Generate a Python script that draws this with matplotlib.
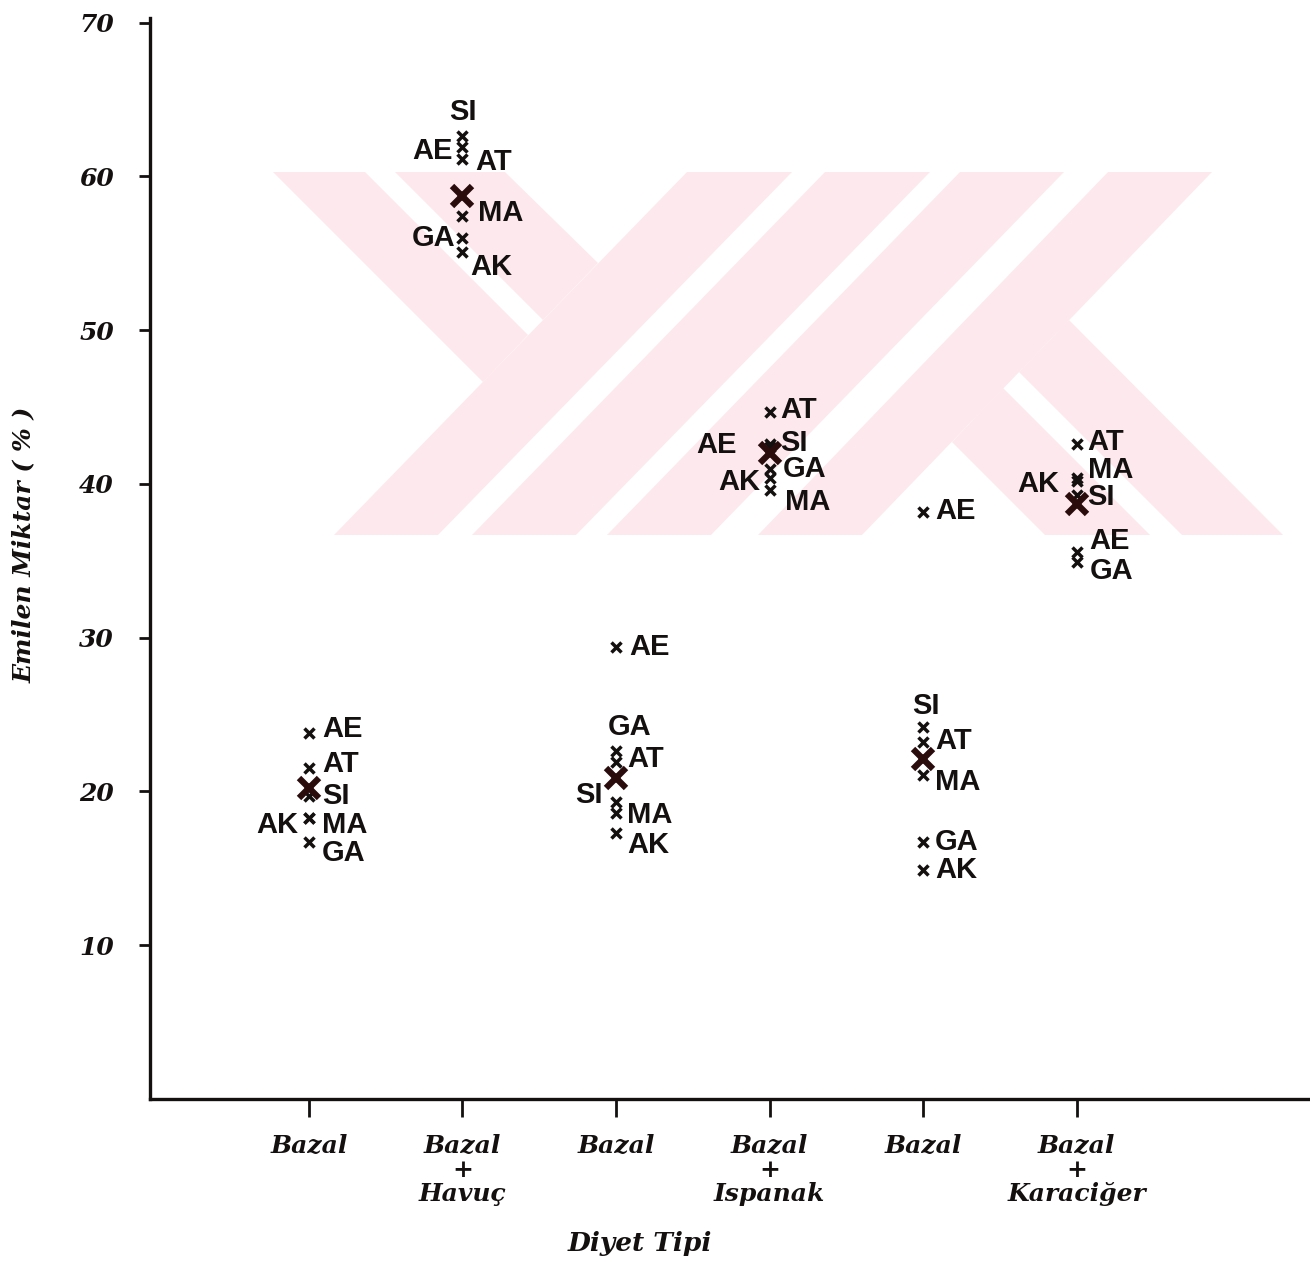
# emilim.py — Diyet tipine göre emilen miktar (%), hayvan bazında
import matplotlib
matplotlib.use("Agg")
import matplotlib.pyplot as plt
from matplotlib import font_manager
from matplotlib.patches import Polygon

# ── Veriler ─────────────────────────────────────────────
HAYVANLAR = ["AE", "AT", "SI", "MA", "GA", "AK"]
DIYETLER  = ["Bazal", "Bazal\n+\nHavuç", "Bazal",
             "Bazal\n+\nIspanak", "Bazal", "Bazal\n+\nKaraciğer"]

bazal_1     = [23.8, 21.5, 19.7, 18.3, 16.7, 18.3]
havuc       = [61.9, 61.1, 62.6, 57.4, 56.0, 55.1]
bazal_2     = [29.4, 21.9, 19.3, 18.6, 22.6, 17.3]
ispanak     = [42.6, 44.7, 42.4, 39.6, 41.0, 40.4]
bazal_3     = [38.2, 23.2, 24.2, 21.1, 16.7, 14.9]
karaciger   = [35.6, 42.6, 39.3, 40.4, 34.9, 40.2]
ortalamalar = [20.2, 58.7, 20.9, 42.0, 22.1, 38.7]

Y_TICKS = [10, 20, 30, 40, 50, 60, 70]

gruplar = [bazal_1, havuc, bazal_2, ispanak, bazal_3, karaciger]

# ── Etiket yerleşimi (piksel kayması, hizalama) ────────
ETIKET_YERI = [
    {"AE": (13, 4, "left"), "AT": (13, 4, "left"), "SI": (13, 0, "left"),
     "MA": (13, -7, "left"), "GA": (13, -11, "left"), "AK": (-11, -7, "right")},
    {"AE": (-10, -4, "right"), "AT": (13, -3, "left"), "SI": (0, 24, "center"),
     "MA": (16, 3, "left"), "GA": (-7, 0, "right"), "AK": (8, -15, "left")},
    {"AE": (13, 0, "left"), "AT": (11, 3, "left"), "SI": (-13, 7, "right"),
     "MA": (11, -2, "left"), "GA": (14, 24, "center"), "AK": (11, -12, "left")},
    {"AE": (-33, -1, "right"), "AT": (11, 2, "left"), "SI": (11, 4, "left"),
     "MA": (15, -12, "left"), "GA": (13, 0, "left"), "AK": (-9, -4, "right")},
    {"AE": (12, 1, "left"), "AT": (12, 1, "left"), "SI": (3, 21, "center"),
     "MA": (12, -7, "left"), "GA": (12, 0, "left"), "AK": (12, 0, "left")},
    {"AE": (13, 11, "left"), "AT": (11, 2, "left"), "SI": (11, -2, "left"),
     "MA": (11, 8, "left"), "GA": (13, -9, "left"), "AK": (-17, -3, "right")},
]

COLOR_INK   = "#141010"
COLOR_MEAN  = "#2a0c0c"
COLOR_WATER = "#fde9ed"

W, H = 1310, 1262

# dar yazı tipi varsa onu kullan
mevcut = {f.name for f in font_manager.fontManager.ttflist}
if "Liberation Sans Narrow" in mevcut:
    ETIKET_FONT, ETIKET_SIZE = "Liberation Sans Narrow", 25
else:
    ETIKET_FONT, ETIKET_SIZE = "Liberation Sans", 21
EKSEN_FONT = "DejaVu Serif"

fig = plt.figure(figsize=(W / 100, H / 100), dpi=100)
fig.patch.set_facecolor("white")

# ── Filigran (soluk pembe) ──────────────────────────────
filigran = [
    [(273, 172), (365, 172), (528, 335), (483, 382)],
    [(395, 172), (505, 172), (598, 263), (543, 320)],
    [(687, 172), (792, 172), (438, 535), (334, 535)],
    [(825, 172), (930, 172), (576, 535), (472, 535)],
    [(960, 172), (1064, 172), (711, 535), (607, 535)],
    [(1108, 172), (1212, 172), (862, 535), (758, 535)],
    [(1069, 320), (1283, 535), (1182, 535), (1019, 372)],
    [(1003, 388), (1150, 535), (1045, 535), (952, 442)],
]
for pts in filigran:
    poly = Polygon([(x / W, 1 - y / H) for x, y in pts], closed=True,
                   transform=fig.transFigure, facecolor=COLOR_WATER,
                   edgecolor="none", zorder=-1)
    fig.add_artist(poly)

ax = fig.add_axes([150 / W, 1 - 1099 / H, 1160 / W, 1081 / H])
ax.patch.set_alpha(0)
ax.set_xlim(-0.035, 7.52)
ax.set_ylim(0, 70.3)

# ── Noktalar ve etiketler ───────────────────────────────
for i, degerler in enumerate(gruplar):
    x = i + 1
    ax.plot([x] * len(degerler), degerler, linestyle="none", marker="x",
            markersize=7.5, markeredgewidth=2.5, color=COLOR_INK)
    for ad, val in zip(HAYVANLAR, degerler):
        dx, dy, ha = ETIKET_YERI[i][ad]
        ax.annotate(ad, (x, val), textcoords="offset pixels", xytext=(dx, dy),
                    ha=ha, va="center", fontsize=ETIKET_SIZE,
                    fontweight="bold", family=ETIKET_FONT, color=COLOR_INK)

ax.plot(range(1, len(ortalamalar) + 1), ortalamalar, linestyle="none",
        marker="x", markersize=15, markeredgewidth=4.5, color=COLOR_MEAN)

# ── Eksenler ────────────────────────────────────────────
for s in ("top", "right"):
    ax.spines[s].set_visible(False)
for s in ("left", "bottom"):
    ax.spines[s].set_linewidth(2.4)
    ax.spines[s].set_color(COLOR_INK)

ax.set_yticks(Y_TICKS)
ax.set_yticklabels([str(v) for v in Y_TICKS])
ax.set_xticks(range(1, len(DIYETLER) + 1))
ax.set_xticklabels(DIYETLER, linespacing=1.0)
ax.tick_params(axis="y", length=8, width=2, pad=18, colors=COLOR_INK)
ax.tick_params(axis="x", length=13, width=2, pad=12, colors=COLOR_INK)
for lbl in ax.get_yticklabels():
    lbl.set_fontfamily(EKSEN_FONT)
    lbl.set_fontsize(18)
    lbl.set_fontweight("bold")
    lbl.set_fontstyle("italic")
for lbl in ax.get_xticklabels():
    lbl.set_fontfamily(EKSEN_FONT)
    lbl.set_fontsize(18)
    lbl.set_fontweight("bold")
    lbl.set_fontstyle("italic")

fig.text(640 / W, 1 - 1243 / H, "Diyet Tipi", ha="center", va="center",
         fontsize=19, fontweight="bold", style="italic", family=EKSEN_FONT,
         color=COLOR_INK)
fig.text(24 / W, 1 - 545 / H, "Emilen Miktar ( % )", ha="center", va="center",
         rotation=90, fontsize=18, fontweight="bold", style="italic",
         family=EKSEN_FONT, color=COLOR_INK)

fig.savefig("out.png", dpi=100, facecolor="white")
